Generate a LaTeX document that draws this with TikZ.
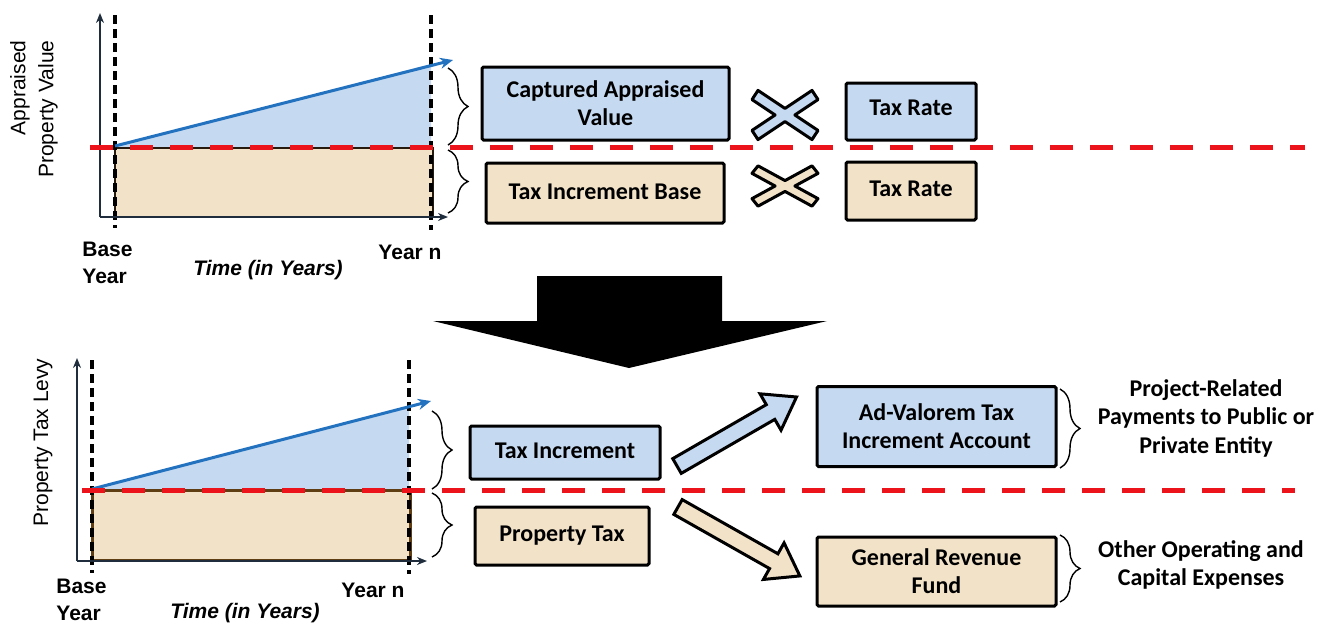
\documentclass[tikz,border=0pt]{standalone}
\usepackage{fontspec}
\setmainfont{Carlito}
\newfontfamily\arialf{Liberation Sans}
\usetikzlibrary{decorations.pathreplacing,arrows.meta}
\definecolor{blueF}{RGB}{197,217,241}
\definecolor{beigeF}{RGB}{242,226,200}
\definecolor{lineBlue}{RGB}{35,114,192}
\definecolor{axisC}{RGB}{31,45,61}
\definecolor{brownC}{RGB}{94,62,18}
\definecolor{redC}{RGB}{236,20,26}
\begin{document}
\begin{tikzpicture}[x=1pt,y=-1pt,
  box/.style={draw=black, line width=3pt, rounded corners=1.5pt, align=center,
    font=\fontsize{24}{28}\selectfont\bfseries, inner sep=0pt},
  bluebox/.style={box, fill=blueF},
  beigebox/.style={box, fill=beigeF},
  vdash/.style={draw=black, line width=3.5pt, dash pattern=on 9pt off 5pt},
  reddash/.style={draw=redC, line width=5pt, dash pattern=on 23pt off 17pt},
  axisline/.style={draw=axisC, line width=1.8pt, -{Stealth[length=10pt,width=8pt]}},
  growth/.style={draw=lineBlue, line width=3pt, -{Stealth[length=13pt,width=11pt]}},
  curly/.style={draw=black, line width=1.4pt, decorate, decoration={brace, amplitude=20pt}},
  axlab/.style={font=\arialf\fontsize{21}{25}\selectfont},
  ticklab/.style={font=\arialf\bfseries\fontsize{21}{27}\selectfont, align=left, inner sep=0pt},
  timelab/.style={font=\arialf\bfseries\itshape\fontsize{21}{25}\selectfont, inner sep=0pt},
  sidelab/.style={font=\fontsize{24}{28.5}\selectfont\bfseries, align=center, inner sep=0pt},
  xmark/.style={draw=black, line width=3pt, line join=round},
  blockarrow/.style={draw=black, line width=3pt, line join=miter}
]
\path[use as bounding box] (0,0) rectangle (1333,624);

% ===== Top chart =====
\coordinate (tO) at (100,217);
\coordinate (tYtop) at (100,13);
\coordinate (tXend) at (448,217);
\coordinate (tB1) at (115,15);
\coordinate (tB2) at (115,228);
\coordinate (tN1) at (431,15);
\coordinate (tN2) at (431,230);
\coordinate (tStart) at (115,146);
\coordinate (tEnd) at (453,60);
\coordinate (tRedL) at (90,147);
\coordinate (tRedR) at (1305,147);

\fill[blueF] (115,147) -- (431,64) -- (431,147) -- cycle;
\filldraw[fill=beigeF, draw=black!80!brown, line width=2.2pt] (115,148) rectangle (433,217);
\draw[vdash] (tB1) -- (tB2);
\draw[vdash] (tN1) -- (tN2);
\draw[axisline] (tO) -- (tYtop);
\draw[axisline] (tO) -- (tXend);
\draw[growth] (tStart) -- (tEnd);

\node[axlab, rotate=90, anchor=east] (lAppr) at (20,37) {Appraised};
\node[axlab, rotate=90, anchor=east] (lProp) at (48,37) {Property Value};
\node[ticklab] (tBase) at (107.5,263) {Base\\Year};
\node[ticklab] (tYearn) at (410,252) {Year n};
\node[timelab] (tTime) at (268,270) {Time (in Years)};

\coordinate (br1a) at (448,68);
\coordinate (br1b) at (448,145);
\coordinate (br2a) at (448,150);
\coordinate (br2b) at (448,213);
\draw[curly] (br1a) -- (br1b);
\draw[curly] (br2a) -- (br2b);

\node[bluebox, minimum width=247pt, minimum height=73pt] (cav) at (605.5,103.5) {Captured Appraised\\Value};
\node[beigebox, minimum width=238pt, minimum height=60pt] (tib) at (605,193) {\raisebox{3pt}{Tax Increment Base}};
\node[bluebox, minimum width=130pt, minimum height=57pt] (tr1) at (911,111.5) {\raisebox{8pt}{Tax Rate}};
\node[beigebox, minimum width=130pt, minimum height=58pt] (tr2) at (911,191) {\raisebox{5pt}{Tax Rate}};

\begin{scope}[shift={(785,115)}]
\filldraw[xmark, fill=blueF] (0,-6.6) -- (27,-24.6) -- (33,-15.4) -- (9.9,0) -- (33,15.4) -- (27,24.6) -- (0,6.6) -- (-27,24.6) -- (-33,15.4) -- (-9.9,0) -- (-33,-15.4) -- (-27,-24.6) -- cycle;
\end{scope}
\begin{scope}[shift={(785,186)}, yscale=0.82]
\filldraw[xmark, fill=beigeF] (0,-6.6) -- (27,-24.6) -- (33,-15.4) -- (9.9,0) -- (33,15.4) -- (27,24.6) -- (0,6.6) -- (-27,24.6) -- (-33,15.4) -- (-9.9,0) -- (-33,-15.4) -- (-27,-24.6) -- cycle;
\end{scope}

\draw[reddash] (tRedL) -- (tRedR);

% ===== Big down arrow =====
\fill[black] (537,276) -- (722,276) -- (722,321) -- (827,321) -- (629,368) -- (433,321) -- (537,321) -- cycle;

% ===== Bottom chart =====
\coordinate (bO) at (77,561);
\coordinate (bYtop) at (77,358);
\coordinate (bXend) at (427,561);
\coordinate (bB1) at (92,360);
\coordinate (bB2) at (92,573);
\coordinate (bN1) at (409,360);
\coordinate (bN2) at (409,574);
\coordinate (bStart) at (92,489);
\coordinate (bEnd) at (431,401);
\coordinate (bRedL) at (82,490);
\coordinate (bRedR) at (1295,490);

\fill[blueF] (92,489) -- (409,408) -- (409,489) -- cycle;
\filldraw[fill=beigeF, draw=brownC, line width=3pt] (92,490) rectangle (410,560);
\draw[vdash] (bB1) -- (bB2);
\draw[vdash] (bN1) -- (bN2);
\draw[axisline] (bO) -- (bYtop);
\draw[axisline] (bO) -- (bXend);
\draw[growth] (bStart) -- (bEnd);

\node[axlab, rotate=90, anchor=east] (lLevy) at (43,355) {Property Tax Levy};
\node[ticklab] (bBase) at (81.5,600) {Base\\Year};
\node[ticklab] (bYearn) at (373,590) {Year n};
\node[timelab] (bTime) at (245,613) {Time (in Years)};

\coordinate (br3a) at (432,411);
\coordinate (br3b) at (432,489);
\coordinate (br4a) at (432,493);
\coordinate (br4b) at (432,557);
\draw[curly] (br3a) -- (br3b);
\draw[curly] (br4a) -- (br4b);

\node[bluebox, minimum width=190pt, minimum height=53pt] (ti) at (565,452.5) {\raisebox{4pt}{Tax Increment}};
\node[beigebox, minimum width=174pt, minimum height=58pt] (pt) at (562,536) {\raisebox{5pt}{Property Tax}};
\node[bluebox, minimum width=239pt, minimum height=80pt] (adv) at (936.5,426.5) {Ad-Valorem Tax\\Increment Account};
\node[beigebox, minimum width=239pt, minimum height=69pt] (grf) at (936.5,571.5) {General Revenue\\Fund};

% block arrows
\begin{scope}[shift={(677,466)}, rotate=30]
\filldraw[blockarrow, fill=blueF] (0,-8.5) -- (108,-8.5) -- (108,-21) -- (138,0) -- (108,21) -- (108,8.5) -- (0,8.5) -- cycle;
\end{scope}
\begin{scope}[shift={(678,507)}, rotate=-29.5]
\filldraw[blockarrow, fill=beigeF] (0,-8.5) -- (110,-8.5) -- (110,-21) -- (140,0) -- (110,21) -- (110,8.5) -- (0,8.5) -- cycle;
\end{scope}

\coordinate (br5a) at (1060,389);
\coordinate (br5b) at (1060,468);
\coordinate (br6a) at (1060,535);
\coordinate (br6b) at (1060,602);
\draw[curly] (br5a) -- (br5b);
\draw[curly] (br6a) -- (br6b);

\node[sidelab] (prj) at (1206,418) {Project-Related\\Payments to Public or\\Private Entity};
\node[sidelab] (oth) at (1201,565) {Other Operating and\\Capital Expenses};

\draw[reddash] (bRedL) -- (bRedR);
\end{tikzpicture}
\end{document}
